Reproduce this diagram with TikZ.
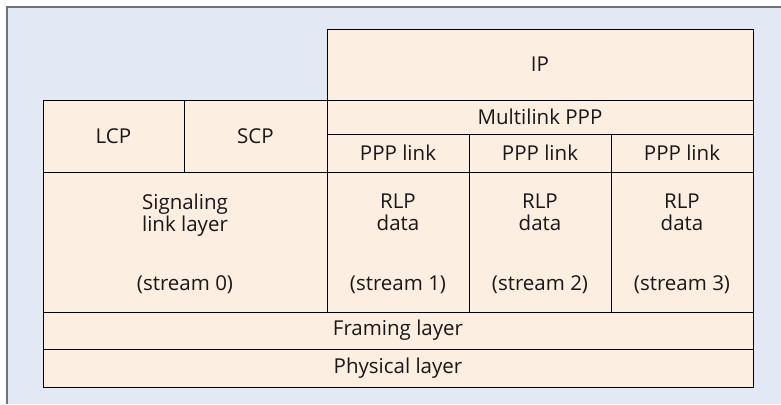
\documentclass[tikz,border=0pt]{standalone}
\usepackage{fontspec}
\setmainfont{Open Sans}
\usepackage{tikz}
\usetikzlibrary{positioning}
\definecolor{panelblue}{rgb}{0.886,0.910,0.957}
\definecolor{layerpeach}{rgb}{0.992,0.933,0.886}
\definecolor{framegray}{rgb}{0.45,0.45,0.45}
\definecolor{inkgray}{rgb}{0.10,0.09,0.09}
\begin{document}
\begin{tikzpicture}[x=1pt,y=-1pt,
  layer/.style={draw=black,fill=layerpeach,line width=0.9pt,inner sep=0pt,outer sep=0pt,anchor=north west,text=inkgray,font=\fontsize{20.5}{22}\selectfont},
  caption/.style={inner sep=0pt,align=center,text=inkgray,font=\fontsize{20.5}{22}\selectfont}]
\useasboundingbox (0,0) rectangle (781,404);
\fill [panelblue] (7,7) rectangle (781,404);
\draw [framegray,line width=1.3pt] (7,404) -- (7,7) -- (781,7);
% upper layers
\node [layer,minimum width=426pt,minimum height=71pt] (ip) at (327,29) {IP};
\node [layer,minimum width=426pt,minimum height=34pt] (mlppp) at (ip.south west) {Multilink PPP};
\node [layer,minimum width=141pt,minimum height=72pt] (lcp) at (43,100) {LCP};
\node [layer,minimum width=143pt,minimum height=72pt] (scp) at (lcp.north east) {SCP};
\foreach \i/\x in {1/327,2/469,3/611}
  \node [layer,minimum width=142pt,minimum height=38pt] (ppp\i) at (\x,134) {PPP link};
% streams
\node [layer,minimum width=284pt,minimum height=140pt] (sig) at (43,172) {};
\node [caption,anchor=north,below=21.5pt of sig.north] (siglabel) {Signaling\\link layer};
\node [caption,anchor=base] (sigstream) at ([yshift=22pt]sig.south) {(stream 0)};
\foreach \i/\x in {1/327,2/469,3/611} {
  \node [layer,minimum width=142pt,minimum height=140pt] (rlp\i) at (\x,172) {};
  \node [caption,below=22pt of rlp\i.north] (rlplabel\i) {RLP\\data};
  \node [caption,anchor=base] (rlpstream\i) at ([yshift=22pt]rlp\i.south) {(stream \i)};
}
% lower layers
\node [layer,minimum width=710pt,minimum height=37pt] (framing) at (43,312) {Framing layer};
\node [layer,minimum width=710pt,minimum height=38pt] (physical) at (framing.south west) {Physical layer};
\end{tikzpicture}
\end{document}
